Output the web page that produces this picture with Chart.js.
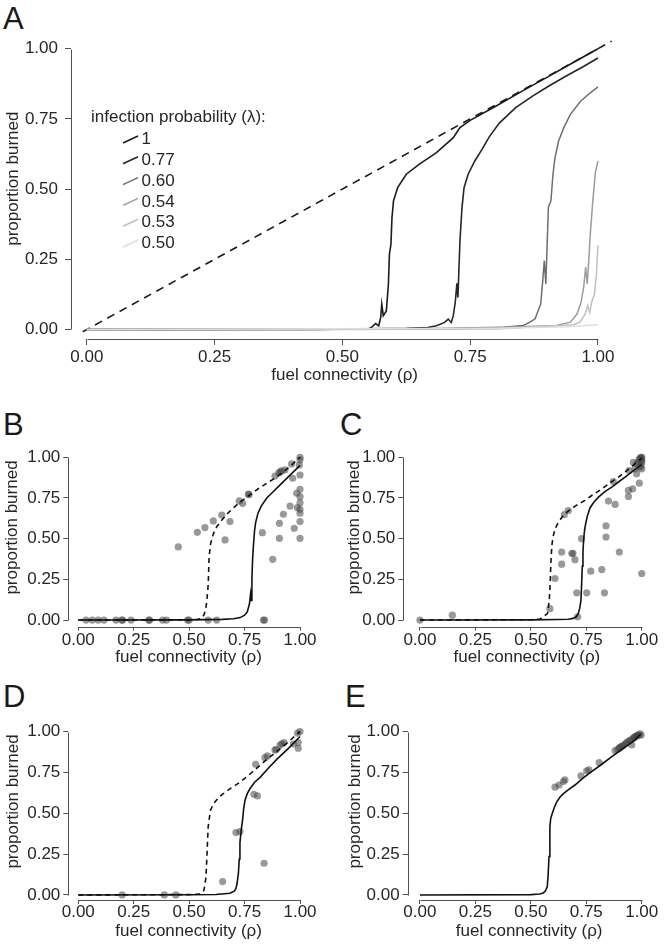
<!DOCTYPE html>
<html>
<head>
<meta charset="utf-8">
<script src="https://cdn.jsdelivr.net/npm/chart.js@4.4.0/dist/chart.umd.min.js"></script>
<style>
  body { margin: 0; background: #fff; width: 670px; height: 950px; position: relative; overflow: hidden;
         font-family: "Liberation Sans", Arial, sans-serif; }
  canvas { position: absolute; }
  .lbl { position: absolute; font-size: 31px; line-height: 31px; color: #1a1a1a; }
</style>
</head>
<body>
<div class="lbl" style="left:3px;top:3px">A</div>
<div class="lbl" style="left:3px;top:409px">B</div>
<div class="lbl" style="left:340px;top:409px">C</div>
<div class="lbl" style="left:3px;top:681px">D</div>
<div class="lbl" style="left:345px;top:681px">E</div>

<canvas id="cA" style="left:0;top:0"></canvas>
<canvas id="cB" style="left:0;top:400px"></canvas>
<canvas id="cC" style="left:335px;top:400px"></canvas>
<canvas id="cD" style="left:0;top:670px"></canvas>
<canvas id="cE" style="left:335px;top:670px"></canvas>

<script>
// ---- data ----
const tickVals = [0, 0.25, 0.5, 0.75, 1];
const xTitle = 'fuel connectivity (\u03c1)';
const yTitle = 'proportion burned';
const legendTitle = 'infection probability (\u03bb):';
const lambdaLabels = ['1', '0.77', '0.60', '0.54', '0.53', '0.50'];

// panel A
const aDashX = [-0.008, 1.027];
const aDashY = [-0.008, 1.027];
const aL100X = [0, 0.45, 0.52, 0.55, 0.558, 0.565, 0.571, 0.575, 0.577, 0.58, 0.586, 0.59, 0.592, 0.595, 0.597, 0.6, 0.608, 0.625, 0.65, 0.684, 0.717, 0.73, 0.75, 0.8, 0.85, 0.9, 0.95, 1.0];
const aL100Y = [0, 0, 0.002, 0.001, 0.009, 0.021, 0.013, 0.043, 0.09, 0.049, 0.066, 0.161, 0.268, 0.304, 0.399, 0.458, 0.505, 0.553, 0.588, 0.63, 0.683, 0.719, 0.745, 0.795, 0.847, 0.898, 0.949, 1.0];
const aL077X = [0, 0.5, 0.625, 0.667, 0.684, 0.70, 0.707, 0.713, 0.717, 0.721, 0.724, 0.726, 0.73, 0.734, 0.738, 0.746, 0.759, 0.774, 0.787, 0.807, 0.839, 0.872, 0.904, 0.937, 0.97, 1.0];
const aL077Y = [0, 0.001, 0.004, 0.007, 0.013, 0.025, 0.037, 0.025, 0.049, 0.10, 0.164, 0.114, 0.316, 0.434, 0.505, 0.553, 0.60, 0.644, 0.685, 0.735, 0.79, 0.831, 0.867, 0.902, 0.935, 0.967];
const aL060X = [0, 0.6, 0.815, 0.854, 0.867, 0.877, 0.883, 0.888, 0.892, 0.895, 0.898, 0.9, 0.903, 0.908, 0.912, 0.916, 0.923, 0.933, 0.946, 0.966, 0.985, 1.0];
const aL060Y = [0, 0.001, 0.008, 0.014, 0.026, 0.038, 0.067, 0.091, 0.174, 0.245, 0.162, 0.27, 0.435, 0.458, 0.553, 0.612, 0.671, 0.718, 0.766, 0.813, 0.843, 0.864];
const aL054X = [0, 0.7, 0.919, 0.946, 0.959, 0.967, 0.972, 0.976, 0.979, 0.982, 0.985, 0.99, 0.995, 1.0];
const aL054Y = [0, 0.001, 0.014, 0.026, 0.055, 0.097, 0.15, 0.222, 0.162, 0.245, 0.34, 0.459, 0.56, 0.6];
const aL053X = [0, 0.8, 0.952, 0.965, 0.975, 0.98, 0.984, 0.988, 0.993, 0.997, 1.0];
const aL053Y = [0, 0.002, 0.017, 0.026, 0.055, 0.085, 0.06, 0.1, 0.125, 0.196, 0.3];
const aL050X = [0, 0.8, 0.94, 1.0];
const aL050Y = [0, 0.004, 0.01, 0.017];

// panel B
const bPtsX = [0.035, 0.063, 0.09, 0.116, 0.17, 0.196, 0.2, 0.238, 0.318, 0.322, 0.38, 0.398, 0.493, 0.5, 0.586, 0.624, 0.835, 0.84,
  0.451, 0.537, 0.571, 0.609, 0.647, 0.662, 0.684, 0.726, 0.741, 0.767, 0.77, 0.83, 0.877, 0.887, 0.907, 0.907, 0.905, 0.91, 0.917, 0.925,
  0.932, 0.955, 0.962, 0.967, 0.974, 0.985, 0.988, 0.997, 1.0, 1.0, 1.0, 1.0, 1.0, 1.0, 1.0, 1.0, 1.0, 1.0];
const bPtsY = [0, 0, 0, 0, 0, 0, 0, 0, 0, 0, 0, 0, 0, 0, 0, 0, 0, 0,
  0.449, 0.539, 0.568, 0.609, 0.645, 0.492, 0.605, 0.732, 0.717, 0.773, 0.77, 0.537, 0.373, 0.885, 0.594, 0.502, 0.905, 0.91, 0.916, 0.65,
  0.922, 0.70, 0.959, 0.871, 0.564, 0.779, 0.691, 0.953, 1.0, 0.984, 0.891, 0.803, 0.758, 0.721, 0.68, 0.656, 0.605, 0.502];
const bDashX = [0, 0.5, 0.54, 0.556, 0.566, 0.574, 0.58, 0.586, 0.59, 0.597, 0.609, 0.625, 0.645, 0.67, 0.7, 0.74, 0.775, 0.81, 0.85, 0.89, 0.925, 0.96, 1.0];
const bDashY = [0, 0.001, 0.004, 0.01, 0.03, 0.06, 0.12, 0.22, 0.39, 0.47, 0.53, 0.575, 0.61, 0.65, 0.69, 0.735, 0.77, 0.805, 0.84, 0.875, 0.91, 0.95, 1.0];
const bLineX = [0, 0.5, 0.65, 0.7, 0.73, 0.75, 0.762, 0.772, 0.777, 0.78, 0.783, 0.786, 0.79, 0.795, 0.8, 0.81, 0.825, 0.85, 0.88, 0.91, 0.94, 0.97, 1.0];
const bLineY = [0, 0.001, 0.004, 0.008, 0.015, 0.03, 0.05, 0.1, 0.16, 0.12, 0.25, 0.37, 0.46, 0.55, 0.6, 0.655, 0.7, 0.75, 0.79, 0.83, 0.87, 0.91, 0.95];

// panel C
const cPtsX = [0, 0.146, 0.586, 0.609, 0.639, 0.639, 0.651, 0.669, 0.685, 0.69, 0.699, 0.707, 0.711, 0.729, 0.752, 0.77, 0.82, 0.832, 0.839, 0.839,
  0.85, 0.872, 0.88, 0.899, 0.94, 0.94, 0.943, 0.959, 0.962, 0.977, 0.989, 0.992, 0.997, 1.0, 1.0, 0.998, 1.0, 1.0, 0.985, 0.988, 0.993, 0.997, 1.0, 0.978, 0.97];
const cPtsY = [0, 0.03, 0.07, 0.255, 0.418, 0.343, 0.647, 0.673, 0.408, 0.41, 0.371, 0.167, 0.02, 0.50, 0.167, 0.30, 0.31, 0.167, 0.578, 0.51,
  0.731, 0.851, 0.71, 0.418, 0.796, 0.759, 0.918, 0.806, 0.969, 0.898, 0.841, 0.939, 0.949, 0.98, 1.0, 0.99, 0.929, 0.286, 0.97, 0.985, 0.995, 1.0, 0.97, 0.96, 0.93];
const cDashX = [0, 0.5, 0.54, 0.556, 0.575, 0.583, 0.587, 0.591, 0.595, 0.6, 0.609, 0.624, 0.645, 0.669, 0.7, 0.744, 0.78, 0.82, 0.86, 0.895, 0.93, 0.965, 1.0];
const cDashY = [0, 0.002, 0.006, 0.02, 0.04, 0.12, 0.22, 0.37, 0.46, 0.51, 0.56, 0.60, 0.64, 0.67, 0.70, 0.735, 0.77, 0.806, 0.845, 0.878, 0.915, 0.955, 0.995];
const cLineX = [0, 0.5, 0.62, 0.669, 0.69, 0.705, 0.714, 0.72, 0.726, 0.729, 0.732, 0.735, 0.738, 0.742, 0.747, 0.755, 0.767, 0.785, 0.805, 0.835, 0.865, 0.895, 0.925, 0.96, 1.0];
const cLineY = [0, 0.001, 0.003, 0.005, 0.01, 0.02, 0.04, 0.07, 0.12, 0.22, 0.33, 0.42, 0.49, 0.55, 0.59, 0.64, 0.69, 0.725, 0.755, 0.79, 0.816, 0.848, 0.878, 0.915, 0.955];

// panel D
const dPtsX = [0.198, 0.388, 0.44, 0.651, 0.711, 0.729, 0.792, 0.808, 0.838, 0.80, 0.842, 0.853, 0.887, 0.893, 0.91, 0.918, 0.928, 0.97, 0.992, 0.992, 0.989, 1.0];
const dPtsY = [0, 0, 0, 0.082, 0.382, 0.388, 0.616, 0.606, 0.194, 0.80, 0.84, 0.851, 0.888, 0.89, 0.918, 0.925, 0.933, 0.924, 0.933, 0.898, 0.99, 1.0];
const dDashX = [0, 0.5, 0.549, 0.56, 0.567, 0.576, 0.582, 0.586, 0.592, 0.597, 0.607, 0.617, 0.635, 0.654, 0.69, 0.729, 0.77, 0.805, 0.85, 0.895, 0.95, 1.0];
const dDashY = [0, 0.002, 0.006, 0.015, 0.03, 0.11, 0.30, 0.42, 0.48, 0.52, 0.55, 0.57, 0.60, 0.62, 0.655, 0.69, 0.735, 0.776, 0.83, 0.878, 0.94, 1.0];
const dLineX = [0, 0.5, 0.62, 0.684, 0.705, 0.711, 0.716, 0.722, 0.726, 0.729, 0.735, 0.741, 0.746, 0.752, 0.762, 0.774, 0.795, 0.82, 0.86, 0.895, 0.95, 1.0];
const dLineY = [0, 0.001, 0.003, 0.01, 0.025, 0.04, 0.07, 0.13, 0.22, 0.32, 0.40, 0.46, 0.53, 0.58, 0.62, 0.65, 0.69, 0.72, 0.78, 0.83, 0.9, 0.97];

// panel E
const ePtsX = [0.609, 0.627, 0.647, 0.654, 0.726, 0.752, 0.762, 0.808, 0.88, 0.892, 0.902, 0.913, 0.925, 0.937, 0.947, 0.955, 0.962, 0.97, 0.977, 0.985, 0.992, 0.997, 0.9, 0.91, 0.93, 0.95, 0.965, 0.98];
const ePtsY = [0.66, 0.673, 0.694, 0.704, 0.729, 0.759, 0.765, 0.81, 0.884, 0.892, 0.904, 0.912, 0.924, 0.939, 0.945, 0.918, 0.959, 0.969, 0.973, 0.98, 0.986, 0.978, 0.9, 0.91, 0.93, 0.95, 0.965, 0.975];
const eLineX = [0, 0.5, 0.54, 0.556, 0.566, 0.574, 0.578, 0.582, 0.586, 0.59, 0.597, 0.607, 0.617, 0.632, 0.647, 0.67, 0.699, 0.735, 0.774, 0.82, 0.865, 0.92, 0.97, 0.995];
const eLineY = [0, 0.002, 0.006, 0.012, 0.025, 0.05, 0.12, 0.235, 0.42, 0.47, 0.50, 0.54, 0.57, 0.60, 0.62, 0.645, 0.673, 0.715, 0.755, 0.80, 0.847, 0.9, 0.949, 0.985];

// ---- styles ----
const fam = '"Liberation Sans", Arial, sans-serif';
const fs = 17;
const txtCol = '#262626';
const axisCol = '#505050';
const lamColors = ['#1c1c1c', '#262626', '#6e6e6e', '#9c9c9c', '#c0c0c0', '#dedede'];
const dotCol = 'rgba(70,70,70,0.55)';

function pts(xs, ys) {
  return xs.map((x, i) => ({x: x, y: ys[i]}));
}

function lineDs(xs, ys, color, dash, width) {
  return {data: pts(xs, ys), showLine: true, borderColor: color, borderWidth: width || 1.6,
          borderDash: dash || [], pointRadius: 0, fill: false, tension: 0};
}

function dotDs(xs, ys) {
  return {data: pts(xs, ys), showLine: false, pointRadius: 3.6, pointBackgroundColor: dotCol,
          pointBorderWidth: 0, pointHoverRadius: 3.6};
}

// R style axis lines: only from the first to the last tick
const rAxis = {
  id: 'rAxis',
  afterDraw(chart) {
    const {ctx, chartArea, scales} = chart;
    const x = scales.x, y = scales.y;
    ctx.save();
    ctx.strokeStyle = axisCol;
    ctx.lineWidth = 1;
    ctx.beginPath();
    const by = Math.round(chartArea.bottom) + 0.5;
    ctx.moveTo(Math.round(x.getPixelForValue(0)) + 0.5, by);
    ctx.lineTo(Math.round(x.getPixelForValue(1)) + 0.5, by);
    const lx = Math.round(chartArea.left) + 0.5;
    ctx.moveTo(lx, Math.round(y.getPixelForValue(0)) + 0.5);
    ctx.lineTo(lx, Math.round(y.getPixelForValue(1)) + 0.5);
    ctx.stroke();
    ctx.restore();
  }
};

// legend of panel A, drawn with little slanted strokes
const lamLegend = {
  id: 'lamLegend',
  afterDraw(chart, args, opts) {
    if (!opts.show) return;
    const ctx = chart.ctx;
    ctx.save();
    ctx.font = fs + 'px ' + fam;
    ctx.fillStyle = txtCol;
    ctx.textBaseline = 'middle';
    ctx.textAlign = 'left';
    ctx.fillText(legendTitle, 91, 117);
    lambdaLabels.forEach((lab, i) => {
      const cy = 139.5 + i * 20.8;
      ctx.strokeStyle = lamColors[i];
      ctx.lineWidth = 1.6;
      ctx.beginPath();
      ctx.moveTo(123, cy + 3.5);
      ctx.lineTo(138, cy - 3.5);
      ctx.stroke();
      ctx.fillStyle = txtCol;
      ctx.fillText(lab, 141.5, cy);
    });
    ctx.restore();
  }
};

function scaleCfg(side, min, max, fit, tl, pad, titlePad) {
  return {
    type: 'linear', position: side, min: min, max: max,
    afterBuildTicks: s => { s.ticks = tickVals.map(v => ({value: v})); },
    afterFit: s => { if (side === 'left') s.width = fit; else s.height = fit; },
    grid: {drawOnChartArea: false, drawTicks: true, tickLength: tl, color: axisCol, lineWidth: 1},
    border: {display: false},
    ticks: {padding: pad, color: txtCol, font: {size: fs, family: fam}, autoSkip: false, maxRotation: 0,
            callback: v => Number(v).toFixed(2)},
    title: {display: true, text: side === 'left' ? yTitle : xTitle, color: txtCol,
            font: {size: fs, family: fam}, padding: titlePad}
  };
}

function makeChart(id, w, h, g, datasets, legend) {
  const cv = document.getElementById(id);
  cv.width = w; cv.height = h;
  cv.style.width = w + 'px'; cv.style.height = h + 'px';
  return new Chart(cv, {
    type: 'scatter',
    data: {datasets: datasets},
    options: {
      responsive: false, animation: false, events: [],
      layout: {padding: {left: 0, top: g.padTop, right: g.padRight, bottom: 0}},
      plugins: {legend: {display: false}, tooltip: {enabled: false}, lamLegend: {show: !!legend}},
      scales: {
        x: scaleCfg('bottom', g.xMin, g.xMax, g.xH, g.xTl, g.xPad, {top: 0, bottom: g.xTitlePad}),
        y: scaleCfg('left', g.yMin, g.yMax, g.yW, g.yTl, g.yPad, {top: g.yTitlePad, bottom: 0})
      }
    },
    plugins: [rAxis, lamLegend]
  });
}

// panel A: lightest curve drawn on top
makeChart('cA', 670, 395,
  {padTop: 18.4, padRight: 51.6, xMin: -0.031, xMax: 1.04, yMin: -0.034, yMax: 1.108,
   xH: 56, yW: 71, xTl: 6, xPad: 1.8, yTl: 6, yPad: 7, xTitlePad: 9.8, yTitlePad: 3.3},
  [
    lineDs(aL050X, aL050Y, lamColors[5], null, 1.5),
    lineDs(aL053X, aL053Y, lamColors[4], null, 1.5),
    lineDs(aL054X, aL054Y, lamColors[3], null, 1.5),
    lineDs(aL060X, aL060Y, lamColors[2], null, 1.5),
    lineDs(aL077X, aL077Y, lamColors[1], null, 1.6),
    lineDs(aL100X, aL100Y, lamColors[0], null, 1.6),
    lineDs(aDashX, aDashY, '#1a1a1a', [8, 6], 1.6)
  ], true);

makeChart('cB', 335, 270,
  {padTop: 28.3, padRight: 26.1, xMin: -0.045, xMax: 1.04, yMin: -0.041, yMax: 1.178,
   xH: 43.3, yW: 68.3, xTl: 4, xPad: -0.6, yTl: 5, yPad: 3, xTitlePad: 2.8, yTitlePad: 2.3},
  [lineDs(bLineX, bLineY, '#111'), lineDs(bDashX, bDashY, '#111', [5, 4]), dotDs(bPtsX, bPtsY)]);

makeChart('cC', 335, 270,
  {padTop: 28.3, padRight: 19.4, xMin: -0.075, xMax: 1.04, yMin: -0.041, yMax: 1.178,
   xH: 43.3, yW: 68.3, xTl: 4, xPad: -0.6, yTl: 5, yPad: 3, xTitlePad: 2.8, yTitlePad: 8.8},
  [lineDs(cLineX, cLineY, '#111'), lineDs(cDashX, cDashY, '#111', [5, 4]), dotDs(cPtsX, cPtsY)]);

makeChart('cD', 335, 280,
  {padTop: 33, padRight: 26.1, xMin: -0.045, xMax: 1.04, yMin: -0.031, yMax: 1.175,
   xH: 50, yW: 68.3, xTl: 4, xPad: -2, yTl: 5, yPad: 3, xTitlePad: 8.1, yTitlePad: 2.8},
  [lineDs(dLineX, dLineY, '#111'), lineDs(dDashX, dDashY, '#111', [5, 4]), dotDs(dPtsX, dPtsY)]);

makeChart('cE', 335, 280,
  {padTop: 33, padRight: 19.4, xMin: -0.055, xMax: 1.04, yMin: -0.031, yMax: 1.175,
   xH: 50, yW: 72.7, xTl: 4, xPad: -2, yTl: 5, yPad: 3, xTitlePad: 8.1, yTitlePad: 9.8},
  [lineDs(eLineX, eLineY, '#111'), dotDs(ePtsX, ePtsY)]);
</script>
</body>
</html>
